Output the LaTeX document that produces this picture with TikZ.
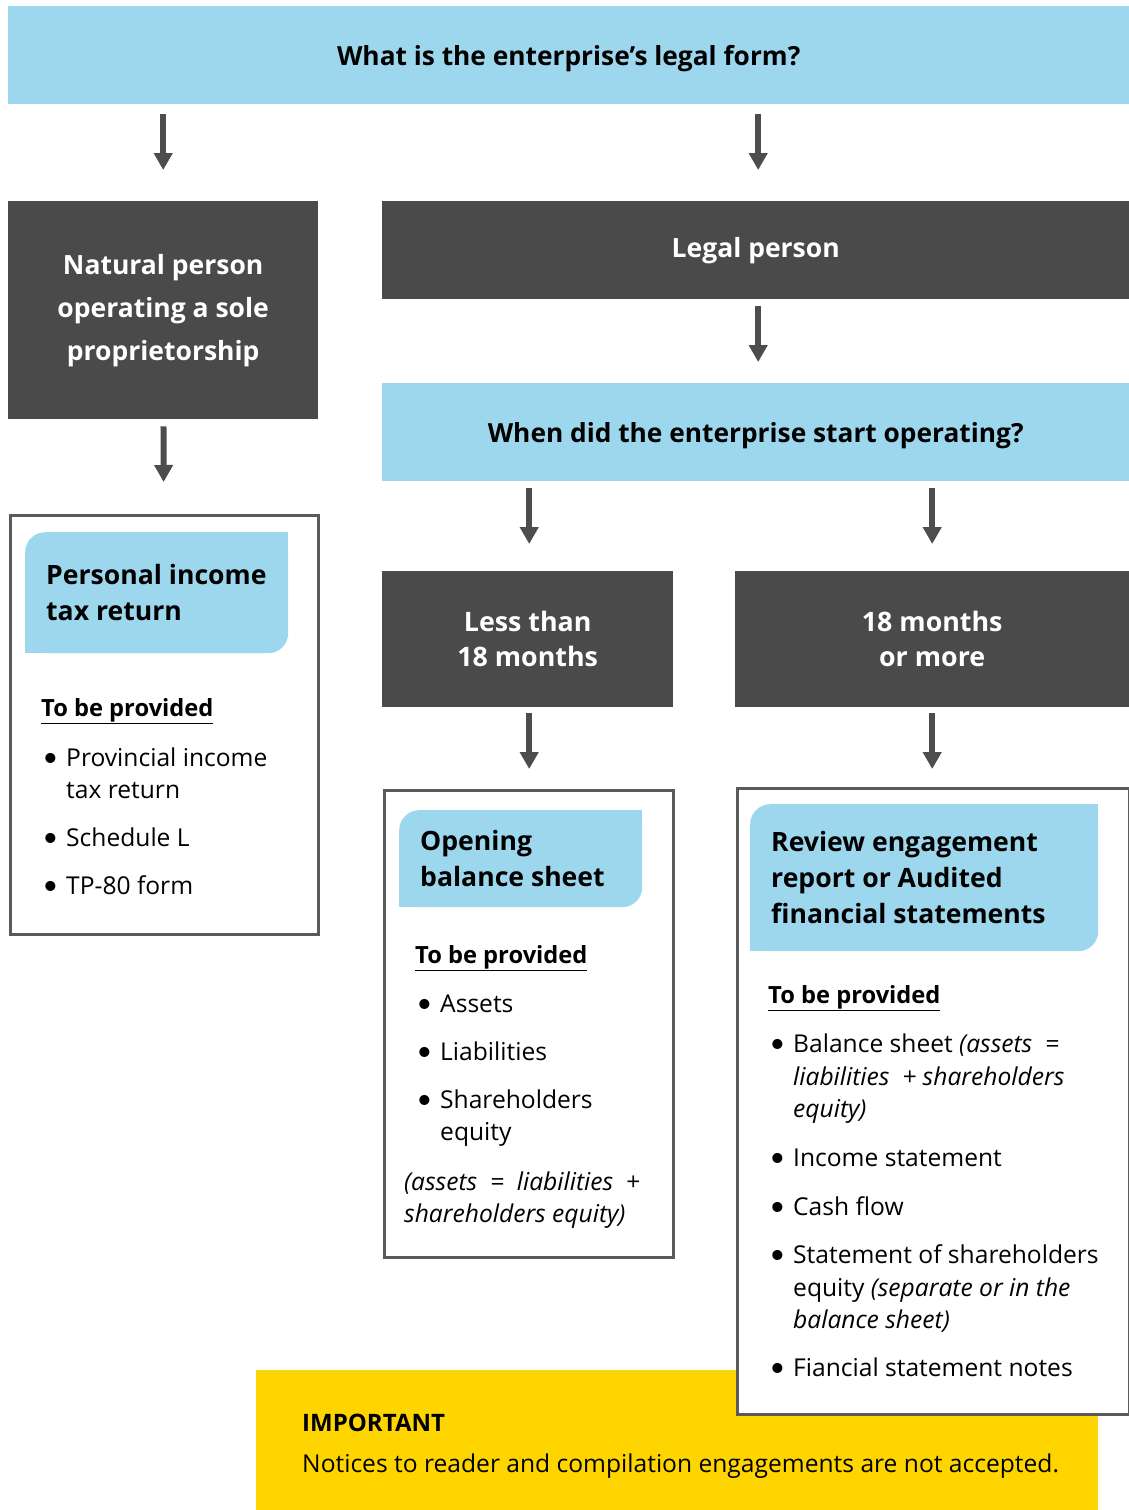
\documentclass[tikz,border=0pt]{standalone}
\usepackage{fontspec}
\setmainfont{Open Sans}
\newfontfamily\bulfont{Lato}
\usetikzlibrary{arrows.meta}
\definecolor{lblue}{HTML}{9DD7ED}
\definecolor{dgray}{HTML}{4A4A4A}
\definecolor{agray}{HTML}{4D4D4D}
\definecolor{bgray}{HTML}{5A5A5A}
\definecolor{yel}{HTML}{FFD500}
\newcommand{\bitem}{\makebox[25pt][l]{\hspace{1.5pt}{\bulfont\fontsize{27}{32}\selectfont\textbullet}}}
\newcommand{\bcont}{\hspace*{25pt}}
\tikzset{
  qbox/.style={fill=lblue, text=black, font=\bfseries\fontsize{26.3}{30}\selectfont, text depth=0pt, anchor=north west, inner sep=0pt},
  dbox/.style={fill=dgray, text=white, font=\bfseries\fontsize{26.5}{43}\selectfont, align=center, anchor=north west, inner sep=0pt},
  wbox/.style={draw=bgray, line width=2.5pt, fill=white, anchor=north west, inner sep=0pt},
  hbox/.style={fill=lblue, rounded corners=20pt, anchor=north west, inner sep=0pt},
  htext/.style={anchor=west, inner sep=0pt, align=left, font=\bfseries\fontsize{26.6}{36}\selectfont},
  listtext/.style={anchor=north west, inner sep=0pt, align=left, font=\fontsize{24.6}{32}\selectfont},
  arr/.style={draw=agray, line width=6pt, -{Triangle[width=18pt,length=17pt]}},
}
\newcommand{\tbp}{{\fontsize{23.7}{32}\selectfont\textbf{\underline{To be provided}}}}
\begin{document}
\begin{tikzpicture}[x=1pt,y=-1pt]
\useasboundingbox (0,0) rectangle (1129,1510);

% top question
\node[qbox, minimum width=1121pt, minimum height=98pt] (q1) at (8,6) {What is the enterprise's legal form?};

% first level
\node[dbox, minimum width=310pt, minimum height=218pt] (nat) at (8,201) {Natural person\\operating a sole\\proprietorship};
\node[dbox, minimum width=747pt, minimum height=98pt] (legal) at (382,201) {Legal person};

% second question
\node[qbox, minimum width=747pt, minimum height=98pt] (q2) at (382,383) {When did the enterprise start operating?};

% second level
\node[dbox, font=\bfseries\fontsize{26.8}{35}\selectfont, minimum width=291pt, minimum height=136pt] (less) at (382,571) {Less than\\18 months};
\node[dbox, font=\bfseries\fontsize{26.8}{35}\selectfont, minimum width=394pt, minimum height=136pt] (more) at (735,571) {18 months\\or more};

% important box (behind right box)
\node[fill=yel, anchor=north west, inner sep=0pt, minimum width=842pt, minimum height=140pt] (imp) at (256,1370) {};
\node[anchor=base west, inner sep=0pt, font=\bfseries\fontsize{24}{30}\selectfont] (impt) at (302,1431) {IMPORTANT};
\node[anchor=base west, inner sep=0pt, font=\fontsize{24.6}{30}\selectfont] (impn) at (302,1472) {Notices to reader and compilation engagements are not accepted.};

% white result boxes
\node[wbox, minimum width=308pt, minimum height=419pt] (b1) at (9,514) {};
\node[wbox, minimum width=289pt, minimum height=467pt] (b2) at (383,789) {};
\node[wbox, minimum width=392pt, minimum height=626pt] (b3) at (736,787) {};

% header boxes (rounded top-left and bottom-right)
\node[hbox, minimum width=263pt, minimum height=121pt] (h1) at (25,532) {};
\fill[lblue] (h1.north east) rectangle ++(-22,22);
\fill[lblue] (h1.south west) rectangle ++(22,-22);
\node[htext] (t1) at ([xshift=21pt]h1.west) {Personal income\\tax return};

\node[hbox, minimum width=243pt, minimum height=97pt] (h2) at (399,810) {};
\fill[lblue] (h2.north east) rectangle ++(-22,22);
\fill[lblue] (h2.south west) rectangle ++(22,-22);
\node[htext] (t2) at ([xshift=21pt]h2.west) {Opening\\balance sheet};

\node[hbox, minimum width=348pt, minimum height=147pt] (h3) at (750,804) {};
\fill[lblue] (h3.north east) rectangle ++(-22,22);
\fill[lblue] (h3.south west) rectangle ++(22,-22);
\node[htext] (t3) at ([xshift=21pt]h3.west) {Review engagement\\report or Audited\\financial statements};

% lists
\node[listtext] (l1) at (41,696) {\rule{0pt}{20pt}\tbp\\[18pt]
\bitem Provincial income\\
\bcont tax return\\[16pt]
\bitem Schedule L\\[16pt]
\bitem TP-80 form};

\node[listtext] (l2) at (415,943) {\rule{0pt}{20pt}\tbp\\[17pt]
\bitem Assets\\[16pt]
\bitem Liabilities\\[16pt]
\bitem Shareholders\\
\bcont equity};
\node[listtext] (n2) at (404,1170) {\rule{0pt}{20pt}\textit{(assets \ = \ liabilities \ +}\\
\textit{shareholders equity)}};

\node[listtext] (l3) at (768,983) {\rule{0pt}{20pt}\tbp\\[17pt]
\bitem Balance sheet \textit{(assets \ =}\\[1pt]
\bcont\textit{liabilities \ + shareholders}\\
\bcont\textit{equity)}\\[17pt]
\bitem Income statement\\[17pt]
\bitem Cash flow\\[16pt]
\bitem Statement of shareholders\\[1pt]
\bcont equity \textit{(separate or in the}\\
\bcont\textit{balance sheet)}\\[16pt]
\bitem Fiancial statement notes};

% connectors
\draw[arr, shorten <=10pt, shorten >=31pt] (q1.south -| nat.north) -- (nat.north);
\draw[arr, shorten <=10pt, shorten >=31pt] ([xshift=2.5pt]q1.south -| legal.north) -- ([xshift=2.5pt]legal.north);
\draw[arr, shorten <=7pt, shorten >=21pt] ([xshift=2.5pt]legal.south) -- ([xshift=2.5pt]q2.north);
\draw[arr, shorten <=7pt, shorten >=32pt] (nat) -- (b1);
\draw[arr, shorten <=7pt, shorten >=27pt] ([xshift=1.5pt]q2.south -| less.north) -- ([xshift=1.5pt]less.north);
\draw[arr, shorten <=7pt, shorten >=27pt] (q2.south -| more.north) -- (more.north);
\draw[arr, shorten <=6pt, shorten >=20pt] ([xshift=1.5pt]less.south) -- ([xshift=1.5pt]less.south |- b2.north);
\draw[arr, shorten <=6pt, shorten >=18pt] (more.south) -- (more.south |- b3.north);
\end{tikzpicture}
\end{document}
